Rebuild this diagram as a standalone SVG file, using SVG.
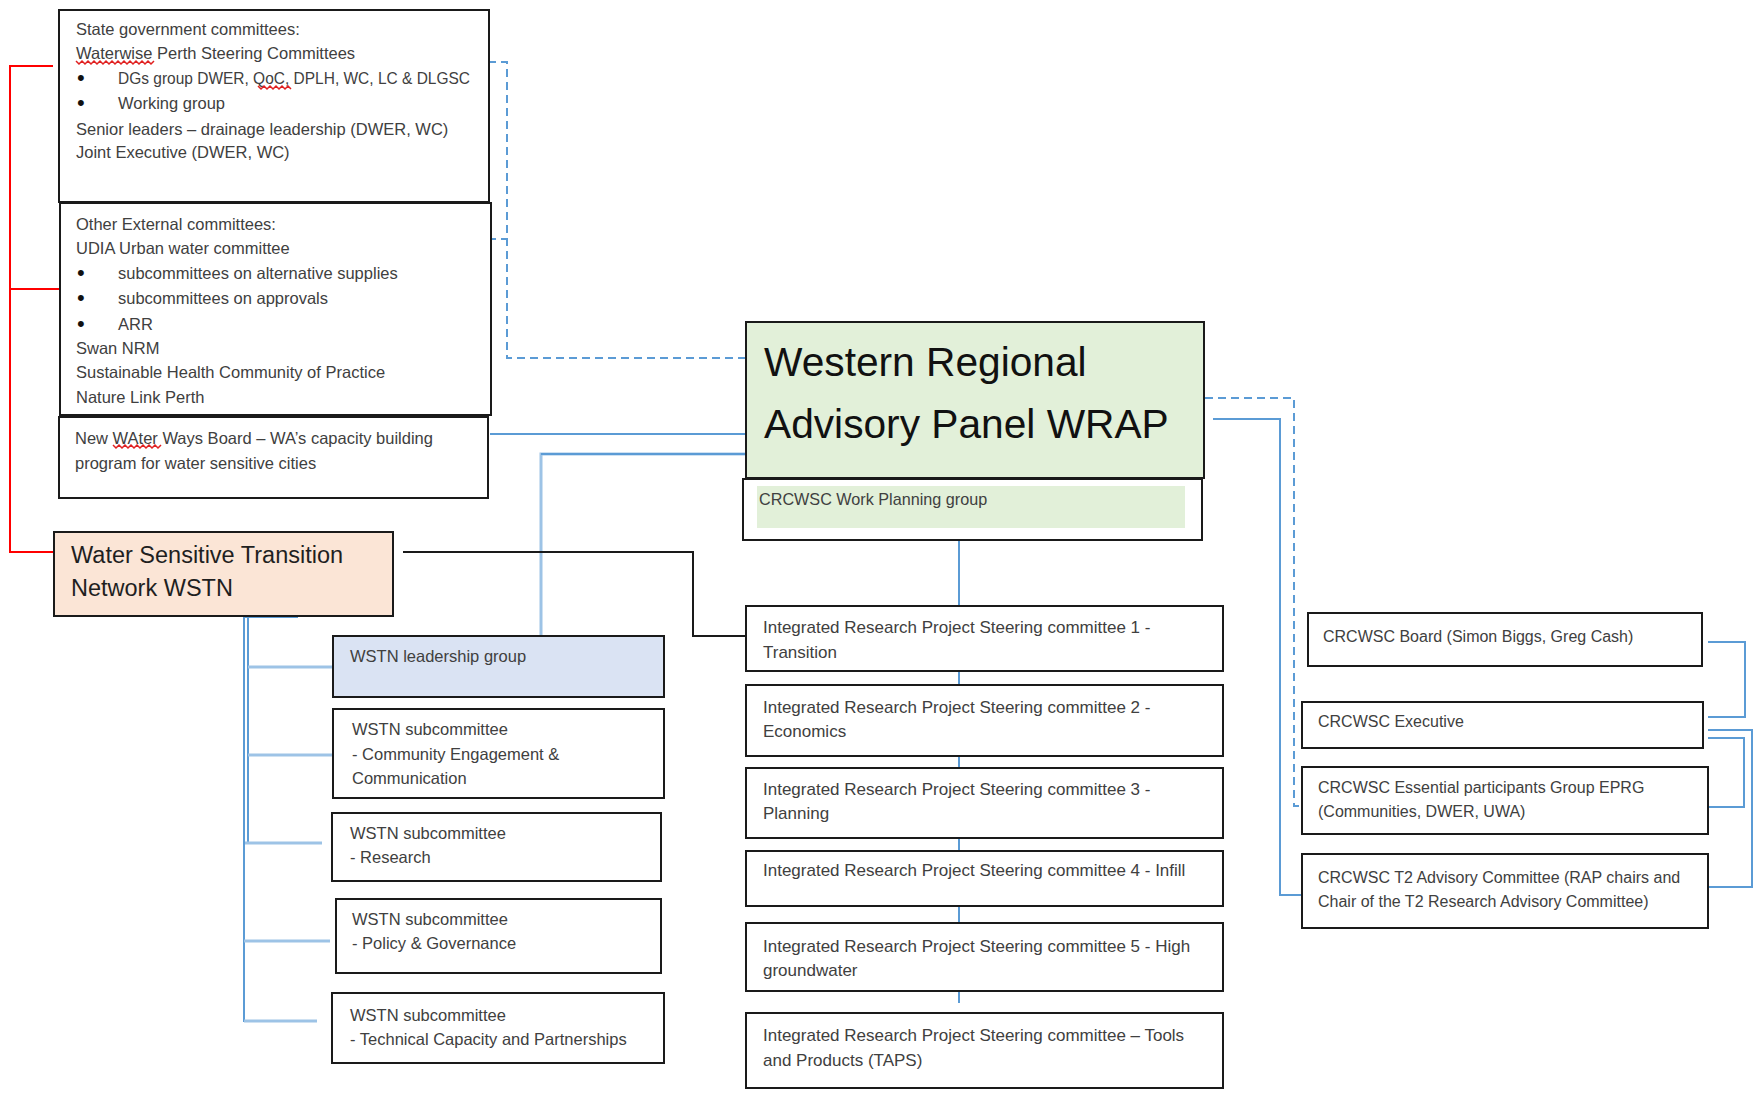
<svg xmlns="http://www.w3.org/2000/svg" width="1753" height="1096" viewBox="0 0 1753 1096">
<style>
.bx{fill:#fff;stroke:#1a1a1a;stroke-width:2}
.t{font-family:"Liberation Sans",Arial,sans-serif;font-size:16.5px;fill:#404040}
.r{font-size:16px}
.i{font-size:17px}
.bu{font-family:"Liberation Sans",Arial,sans-serif;font-size:22px;fill:#111}
.big{font-family:"Liberation Sans",Arial,sans-serif;font-size:23.5px;fill:#1f1f1f}
.huge{font-family:"Liberation Sans",Arial,sans-serif;font-size:40.7px;fill:#111}
.bl{fill:none;stroke:#5B9BD5;stroke-width:2}
.lb{fill:none;stroke:#9DC3E6;stroke-width:3}
.dash{fill:none;stroke:#5B9BD5;stroke-width:2;stroke-dasharray:8 5}
.red{fill:none;stroke:#FF0000;stroke-width:2}
.blk{fill:none;stroke:#1a1a1a;stroke-width:2}
.sq{fill:none;stroke:#E02020;stroke-width:1.5}
</style>
<rect width="1753" height="1096" fill="#fff"/>
<g id="connectors">
  <path class="red" d="M53,66 H10 V552 H54"/>
  <path class="red" d="M10,289 H60"/>
  <path class="dash" d="M488,62 H507 V358 H746"/>
  <path class="dash" d="M488,239 H507"/>
  <path class="bl" d="M443,97 V117"/>
  <path class="bl" d="M490,434 H746"/>
  <path class="lb" d="M541,636 V454 H746"/>
  <path class="bl" d="M541,454 H746"/>
  <path class="blk" d="M403,552 H693 V636 H746"/>
  <path class="bl" d="M959,540 V1003"/>
  <path class="bl" stroke-width="3" d="M244,616 V1022"/>
  <path class="bl" d="M248,617 V843"/>
  <path class="bl" stroke-width="3" d="M244,617 H298"/>
  <path class="lb" d="M248,667 H333"/>
  <path class="lb" d="M248,755 H338"/>
  <path class="lb" d="M245,843 H322"/>
  <path class="lb" d="M244,941 H330"/>
  <path class="lb" d="M244,1021 H317"/>
  <path class="dash" d="M1205,398 H1294 V806 H1302"/>
  <path class="bl" d="M1213,419 H1280 V895 H1302"/>
  <path class="bl" d="M1708,642 H1745 V717 H1708"/>
  <path class="bl" d="M1708,730 H1752 V887 H1708"/>
  <path class="bl" d="M1708,738 H1744 V807 H1708"/>
</g>
<g id="state-gov">
  <rect class="bx" x="59" y="10" width="430" height="192"/>
  <text class="t" x="76" y="35">State government committees:</text>
  <text class="t" x="76" y="59">Waterwise Perth Steering Committees</text>
  <text class="bu" x="77" y="85">•</text>
  <text class="t" x="118" y="84" textLength="352" lengthAdjust="spacingAndGlyphs">DGs group DWER, QoC, DPLH, WC, LC &amp; DLGSC</text>
  <text class="bu" x="77" y="110">•</text>
  <text class="t" x="118" y="109">Working group</text>
  <text class="t" x="76" y="135">Senior leaders – drainage leadership (DWER, WC)</text>
  <text class="t" x="76" y="158">Joint Executive (DWER, WC)</text>
  <path class="sq" d="M76,61 l3,3 l3,-3 l3,3 l3,-3 l3,3 l3,-3 l3,3 l3,-3 l3,3 l3,-3 l3,3 l3,-3 l3,3 l3,-3 l3,3 l3,-3 l3,3 l3,-3 l3,3 l3,-3 l3,3 l3,-3 l3,3 l3,-3 l3,3 l3,-3"/>
  <path class="sq" d="M258,86 l3,3 l3,-3 l3,3 l3,-3 l3,3 l3,-3 l3,3 l3,-3 l3,3 l3,-3 l3,3"/>
</g>
<g id="other-external">
  <rect class="bx" x="60" y="203" width="431" height="212"/>
  <text class="t" x="76" y="230">Other External committees:</text>
  <text class="t" x="76" y="254">UDIA Urban water committee</text>
  <text class="bu" x="77" y="280">•</text>
  <text class="t" x="118" y="279">subcommittees on alternative supplies</text>
  <text class="bu" x="77" y="305">•</text>
  <text class="t" x="118" y="304">subcommittees on approvals</text>
  <text class="bu" x="77" y="331">•</text>
  <text class="t" x="118" y="330">ARR</text>
  <text class="t" x="76" y="354">Swan NRM</text>
  <text class="t" x="76" y="378">Sustainable Health Community of Practice</text>
  <text class="t" x="76" y="403">Nature Link Perth</text>
</g>
<g id="new-water-ways">
  <rect class="bx" x="59" y="417" width="429" height="81"/>
  <text class="t" x="75" y="444">New WAter Ways Board – WA’s capacity building</text>
  <text class="t" x="75" y="469">program for water sensitive cities</text>
  <path class="sq" d="M113,445 l3,3 l3,-3 l3,3 l3,-3 l3,3 l3,-3 l3,3 l3,-3 l3,3 l3,-3 l3,3 l3,-3 l3,3 l3,-3 l3,3 l3,-3"/>
</g>
<g id="wstn">
  <rect class="bx" x="54" y="532" width="339" height="84" style="fill:#FBE5D6"/>
  <text class="big" x="71" y="563">Water Sensitive Transition</text>
  <text class="big" x="71" y="596">Network WSTN</text>
</g>
<g id="wstn-leadership">
  <rect class="bx" x="333" y="636" width="331" height="61" style="fill:#DAE3F3"/>
  <text class="t" x="350" y="662">WSTN leadership group</text>
</g>
<g id="wstn-community">
  <rect class="bx" x="333" y="709" width="331" height="89"/>
  <text class="t" x="352" y="735">WSTN subcommittee</text>
  <text class="t" x="352" y="760">- Community Engagement &amp;</text>
  <text class="t" x="352" y="784">Communication</text>
</g>
<g id="wstn-research">
  <rect class="bx" x="332" y="813" width="329" height="68"/>
  <text class="t" x="350" y="839">WSTN subcommittee</text>
  <text class="t" x="350" y="863">- Research</text>
</g>
<g id="wstn-policy">
  <rect class="bx" x="336" y="899" width="325" height="74"/>
  <text class="t" x="352" y="925">WSTN subcommittee</text>
  <text class="t" x="352" y="949">- Policy &amp; Governance</text>
</g>
<g id="wstn-technical">
  <rect class="bx" x="332" y="993" width="332" height="70"/>
  <text class="t" x="350" y="1021">WSTN subcommittee</text>
  <text class="t" x="350" y="1045">- Technical Capacity and Partnerships</text>
</g>
<g id="wrap">
  <rect class="bx" x="746" y="322" width="458" height="156" style="fill:#E2F0D9"/>
  <text class="huge" x="764" y="376">Western Regional</text>
  <text class="huge" x="764" y="438">Advisory Panel WRAP</text>
</g>
<g id="work-planning">
  <rect class="bx" x="743" y="479" width="459" height="61"/>
  <rect x="757" y="486" width="428" height="42" fill="#E2F0D9"/>
  <text class="t" x="759" y="505" style="font-size:16.2px">CRCWSC Work Planning group</text>
</g>
<g id="irp1">
  <rect class="bx" x="746" y="606" width="477" height="65"/>
  <text class="t i" x="763" y="633">Integrated Research Project Steering committee 1 -</text>
  <text class="t i" x="763" y="658">Transition</text>
</g>
<g id="irp2">
  <rect class="bx" x="746" y="685" width="477" height="71"/>
  <text class="t i" x="763" y="713">Integrated Research Project Steering committee 2 -</text>
  <text class="t i" x="763" y="737">Economics</text>
</g>
<g id="irp3">
  <rect class="bx" x="746" y="768" width="477" height="70"/>
  <text class="t i" x="763" y="795">Integrated Research Project Steering committee 3 -</text>
  <text class="t i" x="763" y="819">Planning</text>
</g>
<g id="irp4">
  <rect class="bx" x="746" y="851" width="477" height="55"/>
  <text class="t i" x="763" y="876">Integrated Research Project Steering committee 4 - Infill</text>
</g>
<g id="irp5">
  <rect class="bx" x="746" y="923" width="477" height="68"/>
  <text class="t i" x="763" y="952">Integrated Research Project Steering committee 5 - High</text>
  <text class="t i" x="763" y="976">groundwater</text>
</g>
<g id="irp-taps">
  <rect class="bx" x="746" y="1013" width="477" height="75"/>
  <text class="t i" x="763" y="1041">Integrated Research Project Steering committee – Tools</text>
  <text class="t i" x="763" y="1066">and Products (TAPS)</text>
</g>
<g id="crcwsc-board">
  <rect class="bx" x="1308" y="613" width="394" height="53"/>
  <text class="t r" x="1323" y="642">CRCWSC Board (Simon Biggs, Greg Cash)</text>
</g>
<g id="crcwsc-executive">
  <rect class="bx" x="1302" y="702" width="401" height="46"/>
  <text class="t r" x="1318" y="727">CRCWSC Executive</text>
</g>
<g id="crcwsc-eprg">
  <rect class="bx" x="1302" y="767" width="406" height="67"/>
  <text class="t r" x="1318" y="793">CRCWSC Essential participants Group EPRG</text>
  <text class="t r" x="1318" y="817">(Communities, DWER, UWA)</text>
</g>
<g id="crcwsc-t2">
  <rect class="bx" x="1302" y="854" width="406" height="74"/>
  <text class="t r" x="1318" y="883">CRCWSC T2 Advisory Committee (RAP chairs and</text>
  <text class="t r" x="1318" y="907">Chair of the T2 Research Advisory Committee)</text>
</g>
</svg>
